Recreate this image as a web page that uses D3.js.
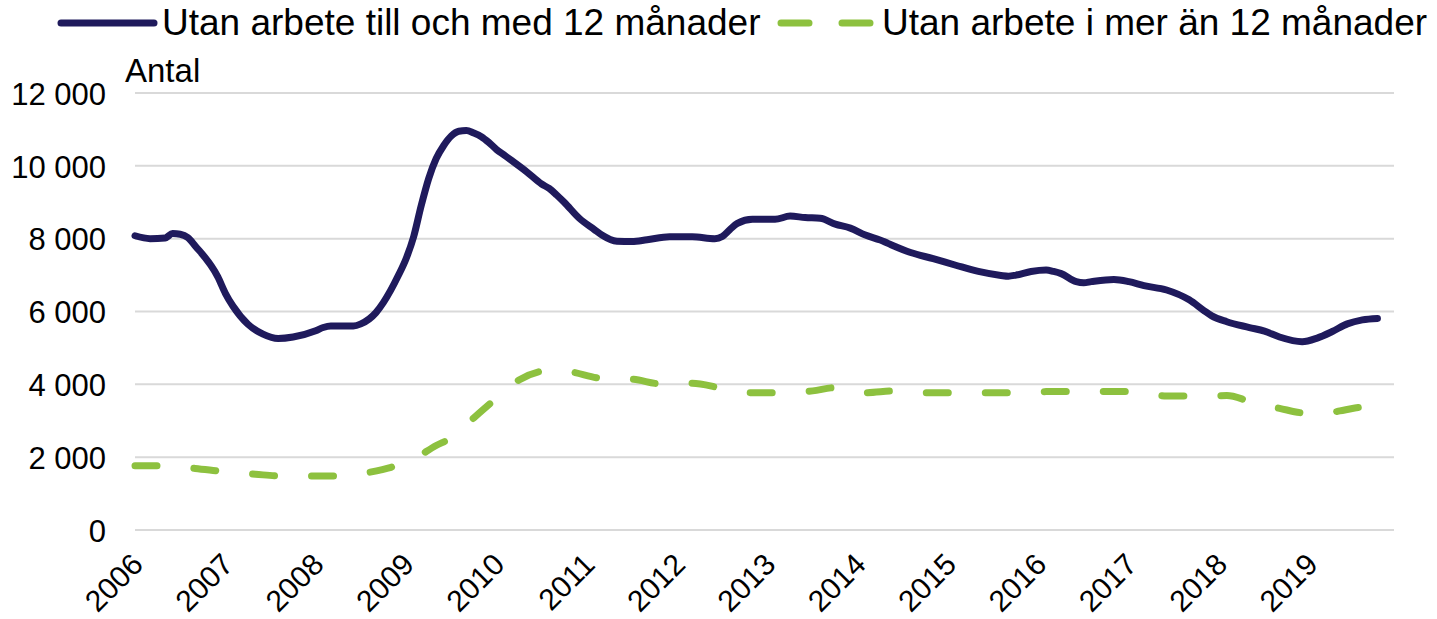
<!DOCTYPE html>
<html><head><meta charset="utf-8">
<script src="https://cdn.jsdelivr.net/npm/d3@7"></script>
<style>
html,body{margin:0;padding:0;background:#fff;}
svg{display:block;font-family:"Liberation Sans",Arial,sans-serif;}
</style></head>
<body>
<svg id="chart" width="1437" height="619"></svg>
<script>
// ---- data ----
const seriesNames = ["Utan arbete till och med 12 månader", "Utan arbete i mer än 12 månader"];
const yearLabels = ["2006","2007","2008","2009","2010","2011","2012","2013","2014","2015","2016","2017","2018","2019"];
const yTicks = [0, 2000, 4000, 6000, 8000, 10000, 12000];

// month index from Jan 2006
const shortMonths = [0,2,4,5,6,7,8,11,12,13,15,17,19,21,24,25,26,29,30,32,33,35,36,37,38,39,40,41,42,43,44,45,46,47,48,49,50,52,54,55,56,57,59,61,62,64,66,68,71,74,77,78,79,80,82,85,87,89,91,93,95,97,99,100,103,106,109,112,115,116,117,119,121,122,123,125,126,127,130,132,134,137,140,142,143,145,148,150,152,155,157,159,161,163,165];
const shortValues = [8080,8000,8020,8140,8120,8030,7800,6950,6500,6150,5650,5380,5260,5300,5470,5560,5600,5600,5660,5970,6250,7000,7450,8050,8900,9650,10200,10560,10820,10950,10970,10900,10800,10640,10450,10300,10150,9840,9500,9380,9200,9000,8560,8250,8100,7930,7920,7970,8050,8050,8000,8060,8250,8420,8530,8530,8620,8580,8560,8400,8290,8100,7960,7870,7620,7450,7270,7100,6990,6970,7000,7100,7140,7100,7040,6820,6790,6820,6880,6820,6710,6590,6320,6020,5880,5720,5560,5460,5300,5170,5270,5450,5660,5770,5810];

const longMonths = [0,4,8,12,16,20,24,28,31,34,37,40,42,45,48,51,54,56,58,62,66,70,74,78,82,86,90,93,97,101,105,110,117,121,125,129,133,137,141,145,148,152,156,158,160,162,165];
const longValues = [1765,1765,1690,1600,1530,1480,1480,1480,1580,1720,1950,2320,2530,3080,3620,4120,4360,4400,4340,4165,4140,4010,4030,3890,3770,3770,3820,3910,3770,3820,3770,3770,3770,3800,3800,3805,3805,3680,3680,3690,3540,3340,3200,3200,3270,3350,3400];

const colors = ["#1f1a5c", "#8dc13f"];

// ---- chart ----
const svg = d3.select("#chart");
const plotLeft = 135, plotRight = 1394, plotTop = 93, plotBottom = 530;
const x = d3.scaleLinear().domain([0, 167.2]).range([plotLeft, plotRight]);
const y = d3.scaleLinear().domain([0, 12000]).range([plotBottom, plotTop]);
const fmt = d3.formatLocale({decimal: ",", thousands: " ", grouping: [3], currency: ["", " kr"]}).format(",d");

// gridlines
svg.append("g").selectAll("line").data(yTicks).join("line")
  .attr("x1", plotLeft).attr("x2", plotRight)
  .attr("y1", d => y(d)).attr("y2", d => y(d))
  .attr("stroke", "#d9d9d9").attr("stroke-width", 2);

// y axis labels
const yAxis = d3.axisLeft(y).tickValues(yTicks).tickFormat(fmt).tickSize(0).tickPadding(0);
const gy = svg.append("g").attr("transform", `translate(106,0)`).call(yAxis);
gy.select(".domain").remove();
gy.selectAll("text").attr("font-size", 31).attr("fill", "#000").attr("font-family", "Liberation Sans, Arial, sans-serif").attr("dy", "0.36em");

// x axis labels
const xAxis = d3.axisBottom(x).tickValues(yearLabels.map((d, i) => i * 12)).tickFormat((d, i) => yearLabels[i]).tickSize(0);
const gx = svg.append("g").attr("transform", `translate(0,${plotBottom})`).call(xAxis);
gx.select(".domain").remove();
gx.selectAll("text")
  .attr("font-size", 30).attr("fill", "#000").attr("font-family", "Liberation Sans, Arial, sans-serif")
  .attr("text-anchor", "end")
  .attr("y", 0).attr("dy", "0.72em")
  .attr("transform", "translate(-6,21) rotate(-45)");

// "Antal"
svg.append("text").attr("x", 125).attr("y", 82).attr("font-size", 33).attr("fill", "#000").text("Antal");

// lines
const line = d3.line().x(d => x(d[0])).y(d => y(d[1])).curve(d3.curveMonotoneX);
const shortData = d3.zip(shortMonths, shortValues);
const longData = d3.zip(longMonths, longValues);

svg.append("path").datum(longData).attr("d", line)
  .attr("fill", "none").attr("stroke", colors[1]).attr("stroke-width", 7)
  .attr("stroke-linecap", "round").attr("stroke-dasharray", "22 37");

svg.append("path").datum(shortData).attr("d", line)
  .attr("fill", "none").attr("stroke", colors[0]).attr("stroke-width", 7)
  .attr("stroke-linecap", "round").attr("stroke-linejoin", "round");

// legend
const lg = svg.append("g");
lg.append("line").attr("x1", 61).attr("x2", 154).attr("y1", 23).attr("y2", 23)
  .attr("stroke", colors[0]).attr("stroke-width", 7).attr("stroke-linecap", "round");
lg.append("text").attr("x", 162).attr("y", 35).attr("font-size", 37).attr("fill", "#000").text(seriesNames[0]);
lg.append("line").attr("x1", 781).attr("x2", 873).attr("y1", 23).attr("y2", 23)
  .attr("stroke", colors[1]).attr("stroke-width", 7).attr("stroke-linecap", "round")
  .attr("stroke-dasharray", "28 33");
lg.append("text").attr("x", 882).attr("y", 35).attr("font-size", 37).attr("fill", "#000").text(seriesNames[1]);
</script>
</body></html>
